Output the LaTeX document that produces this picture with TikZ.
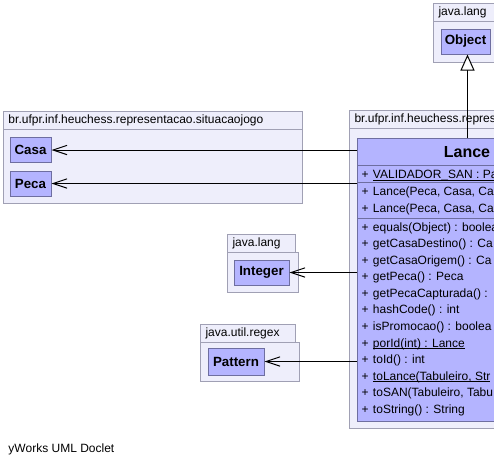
\documentclass[tikz,border=0pt]{standalone}
\usepackage{fontspec}
\setmainfont{Liberation Sans}
\usetikzlibrary{arrows.meta}
\definecolor{pkgfill}{RGB}{238,238,251}
\definecolor{pkgline}{RGB}{160,160,180}
\definecolor{clsfill}{RGB}{180,180,255}
\definecolor{clsline}{RGB}{110,110,160}
\newcommand{\ulstatic}[1]{\setbox0\hbox{#1}\rlap{\rule[-1.6pt]{\wd0}{0.75pt}}\box0}

\begin{document}
\begin{tikzpicture}[x=0.75pt, y=-0.75pt, line width=0.75pt, pkg/.style={
        rectangle,
        draw=pkgline,
        fill=pkgfill,
        anchor=north west,
        inner sep=0pt
    }, cls/.style={
        rectangle,
        draw=clsline,
        fill=clsfill,
        inner sep=0pt,
        minimum height=18.75pt,
        font=\bfseries\fontsize{10}{12}\selectfont
    }, pkgname/.style={
        anchor=west,
        inner sep=0pt,
        font=\fontsize{9}{11}\selectfont
    }, member/.style={
        anchor=west,
        inner sep=0pt,
        text height=6.75pt,
        text depth=2pt,
        font=\fontsize{9}{11}\selectfont
    }, dep/.style={
        -{Straight Barb[length=10.5pt, width=7pt]}
    }, extends/.style={
        -{Triangle[open, length=12pt, width=10.5pt, fill=white]}
    }]
    \useasboundingbox (0,0) rectangle (494,465);
    \clip (0,0) rectangle (494,465);
    \fill [white] (0,0) rectangle (494,465);

    \node (sjtab) [pkg, minimum width=224.25pt, minimum height=13.5pt] at (3,111) {};
    \node (sjbody) [pkg, minimum width=224.25pt, minimum height=55.5pt] at (3,129) {};
    \node (sjname) [pkgname] at ([xshift=3.75pt]sjtab.west) {br.ufpr.inf.heuchess.representacao.situacaojogo};
    \node (casa) [cls, minimum width=30.75pt] at (30.5,150) {Casa};
    \node (peca) [cls, minimum width=30.75pt] at (30.5,183.5) {Peca};

    \node (objtab) [pkg, minimum width=75pt, minimum height=13.5pt] at (433,3) {};
    \node (objbody) [pkg, minimum width=75pt, minimum height=30.75pt] at (433,21) {};
    \node (objname) [pkgname] at ([xshift=3.75pt]objtab.west) {java.lang};
    \node (object) [cls, minimum width=36.75pt] at (465.5,41.5) {Object};

    \node (jltab) [pkg, minimum width=51pt, minimum height=13.5pt] at (227,234) {};
    \node (jlbody) [pkg, minimum width=53.25pt, minimum height=30pt] at (227,252) {};
    \node (jlname) [pkgname] at ([xshift=3.75pt]jltab.west) {java.lang};
    \node (integer) [cls, minimum width=41.25pt] at (261.5,272.5) {Integer};

    \node (retab) [pkg, minimum width=71.25pt, minimum height=13.5pt] at (200,324) {};
    \node (rebody) [pkg, minimum width=74.25pt, minimum height=29.25pt] at (200,342) {};
    \node (rename) [pkgname] at ([xshift=3.75pt]retab.west) {java.util.regex};
    \node (pattern) [cls, minimum width=42pt, minimum height=20.25pt] at (236,361.5) {Pattern};

    \node (jgtab) [pkg, minimum width=225pt, minimum height=13.5pt] at (349,110) {};
    \node (jgbody) [pkg, minimum width=225pt, minimum height=225pt] at (349,128) {};
    \node (jgname) [pkgname] at ([xshift=3.75pt]jgtab.west) {br.ufpr.inf.heuchess.representacao.jogo};
    \node (lance) [cls, anchor=north west, minimum width=165pt, minimum height=212.25pt] at (357,138) {};
    \node (lancename) [font=\bfseries\fontsize{12}{14}\selectfont] at (467,152) {Lance};
    \draw [clsline] (357,165.5) -- (577,165.5);
    \draw [clsline] (357,182.7) -- (577,182.7);
    \draw [clsline] (357,218.3) -- (577,218.3);
    \foreach \y/\txt in {175.5/{\ulstatic{VALIDADOR\_SAN : Pa}},
                         192/{Lance(Peca, Casa, Ca}, 209/{Lance(Peca, Casa, Ca},
                         228/{equals(Object) : boolea}, 244.5/{getCasaDestino() : Ca},
                         261/{getCasaOrigem() : Ca}, 277.6/{getPeca() : Peca},
                         294.2/{getPecaCapturada() :}, 310.7/{hashCode() : int},
                         327.3/{isPromocao() : boolea}, 343.9/{\ulstatic{porId(int) : Lance}},
                         360.4/{toId() : int}, 377/{\ulstatic{toLance(Tabuleiro, Str}},
                         393.5/{toSAN(Tabuleiro, Tabu}, 410/{toString() : String}} {
        \node [member] at (361,\y) {+};
        \node [member] at (372.5,\y) {\txt};
    }

    \draw [extends] (lance.north) -- (lance.north |- object.south);
    \draw [dep] (casa -| lance.west) -- (casa);
    \draw [dep] (peca -| lance.west) -- (peca);
    \draw [dep] (integer -| lance.west) -- (integer);
    \draw [dep] (pattern -| lance.west) -- (pattern);

    \node (footer) [pkgname] at (8,449) {yWorks UML Doclet};
\end{tikzpicture}
\end{document}
